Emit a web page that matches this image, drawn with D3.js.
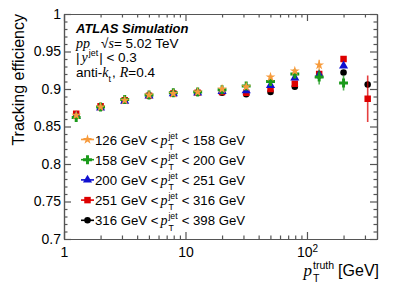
<!DOCTYPE html>
<html>
<head>
<meta charset="utf-8">
<script src="https://cdn.jsdelivr.net/npm/d3@7"></script>
<style>
body{margin:0;background:#fff;}
text{font-family:"Liberation Sans",Arial,Helvetica,sans-serif;fill:#000;}
text.it{font-family:"Liberation Serif","Times New Roman",serif;font-style:italic;}
.axis path,.axis line{stroke:#555;stroke-width:1.2;}
</style>
</head>
<body>
<div id="plot"></div>
<script>
//track pT truth bin centres (GeV)
var ptTruth = [1.26, 2.0, 3.16, 5.01, 7.94, 12.6, 20.0, 31.6, 50.1, 79.4, 126, 200, 316];

//one series per jet pT bin, null = no point
var jetLabels = [['126','158'],['158','200'],['200','251'],['251','316'],['316','398']];
var eff126 = [0.865, 0.876, 0.885, 0.892, 0.894, 0.896, 0.900, 0.903, 0.916, 0.924, 0.932, null, null],
	err126 = [0.001, 0.001, 0.001, 0.001, 0.001, 0.001, 0.001, 0.002, 0.002, 0.003, 0.007, null, null];
var eff158 = [0.862, 0.876, 0.886, 0.892, 0.895, 0.896, 0.899, 0.904, 0.910, 0.920, 0.916, 0.908, null],
	err158 = [0.001, 0.001, 0.001, 0.001, 0.001, 0.001, 0.001, 0.001, 0.002, 0.003, 0.010, 0.010, null];
var eff200 = [0.864, 0.875, 0.884, 0.891, 0.894, 0.895, 0.897, 0.898, 0.905, 0.915, 0.919, 0.931, null],
	err200 = [0.001, 0.001, 0.001, 0.001, 0.001, 0.001, 0.001, 0.001, 0.001, 0.002, 0.002, 0.003, null];
var eff251 = [0.867, 0.877, 0.885, 0.891, 0.894, 0.895, 0.896, 0.895, 0.900, 0.907, 0.920, 0.940, 0.887],
	err251 = [0.001, 0.001, 0.001, 0.001, 0.001, 0.001, 0.001, 0.001, 0.001, 0.002, 0.002, 0.003, 0.031];
var eff316 = [0.864, 0.876, 0.885, 0.891, 0.894, 0.895, 0.895, 0.893, 0.896, 0.903, 0.918, 0.922, 0.906],
	err316 = [0.001, 0.001, 0.001, 0.001, 0.001, 0.001, 0.001, 0.001, 0.001, 0.001, 0.002, 0.002, 0.004];

var yMajor = [0.7, 0.75, 0.8, 0.85, 0.9, 0.95, 1];

//styles kept apart from the values
var series = [
	{eff:eff126, err:err126, color:'#f79b3c', sym:d3.symbolStar, size:30},
	{eff:eff158, err:err158, color:'#1a9a1a', sym:d3.symbolCross, size:44},
	{eff:eff200, err:err200, color:'#1010d0', sym:d3.symbolTriangle, size:36},
	{eff:eff251, err:err251, color:'#dd0000', sym:d3.symbolSquare, size:42},
	{eff:eff316, err:err316, color:'#000000', sym:d3.symbolCircle, size:34}
];

var W = 399, H = 286,
	m = {t:14, r:22, b:47, l:64},
	w = W - m.l - m.r,
	h = H - m.t - m.b;

var svg = d3.select('#plot').append('svg')
	.attr('width', W).attr('height', H);
var plot = svg.append('g').attr('transform','translate('+m.l+','+m.t+')');

var scaleX = d3.scaleLog().domain([1, 377]).range([0, w]),
	scaleY = d3.scaleLinear().domain([0.7, 1]).range([h, 0]);

//minor ticks
var xMinor = [];
[1,10,100].forEach(function(dec){
	for(var k=2;k<=9;k++){ if(dec*k < 377) xMinor.push(dec*k); }
});
var yMinor = d3.range(0.70, 1.0001, 0.01).map(function(v){return +v.toFixed(2)})
	.filter(function(v){ return yMajor.indexOf(v) < 0; });

function drawAxis(axis, tx, ty, cls){
	return plot.append('g').attr('class','axis '+(cls||''))
		.attr('transform','translate('+tx+','+ty+')')
		.call(axis);
}
var noLab = function(){ return ''; };

//y axes
drawAxis(d3.axisLeft(scaleY).tickValues(yMajor).tickSize(-7).tickSizeOuter(0).tickPadding(3)
	.tickFormat(function(d){ return d===1 ? '1' : d3.format('')(d); }), 0, 0, 'y-axis');
drawAxis(d3.axisLeft(scaleY).tickValues(yMinor).tickSize(-3.5).tickSizeOuter(0).tickFormat(noLab), 0, 0);
drawAxis(d3.axisRight(scaleY).tickValues(yMajor).tickSize(-7).tickSizeOuter(0).tickFormat(noLab), w, 0);
drawAxis(d3.axisRight(scaleY).tickValues(yMinor).tickSize(-3.5).tickSizeOuter(0).tickFormat(noLab), w, 0);

//x axes
var xAxisNode = drawAxis(d3.axisBottom(scaleX).tickValues([1,10,100]).tickSize(-7).tickSizeOuter(0).tickPadding(8)
	.tickFormat(function(d){ return d===100 ? '' : d; }), 0, h, 'x-axis');
drawAxis(d3.axisBottom(scaleX).tickValues(xMinor).tickSize(-3.5).tickSizeOuter(0).tickFormat(noLab), 0, h);
drawAxis(d3.axisTop(scaleX).tickValues([1,10,100]).tickSize(-7).tickSizeOuter(0).tickFormat(noLab), 0, 0);
drawAxis(d3.axisTop(scaleX).tickValues(xMinor).tickSize(-3.5).tickSizeOuter(0).tickFormat(noLab), 0, 0);

plot.selectAll('.axis text').style('font-size','14px').style('font-family','"Liberation Sans",Arial,sans-serif');
//10^2 label
var t100 = xAxisNode.selectAll('.tick').filter(function(d){return d===100;}).select('text');
t100.append('tspan').text('10');
t100.append('tspan').attr('dy','-0.5em').style('font-size','10px').text('2');

//data: draw order black first, orange on top
var order = [4,3,2,1,0];
order.forEach(function(si){
	var s = series[si];
	var pts = ptTruth.map(function(x,i){ return {x:x, v:s.eff[i], e:s.err[i]}; })
		.filter(function(d){ return d.v !== null; });
	var g = plot.append('g').attr('class','series');
	g.selectAll('.err').data(pts).enter()
		.append('line').attr('class','err')
		.attr('x1',function(d){return scaleX(d.x)}).attr('x2',function(d){return scaleX(d.x)})
		.attr('y1',function(d){return scaleY(d.v - d.e)}).attr('y2',function(d){return scaleY(d.v + d.e)})
		.attr('stroke', s.color).attr('stroke-width',1.6).attr('opacity',0.75);
	g.selectAll('.pt').data(pts).enter()
		.append('path').attr('class','pt')
		.attr('transform',function(d){return 'translate('+scaleX(d.x)+','+scaleY(d.v)+')'})
		.attr('d', d3.symbol().type(s.sym).size(s.size))
		.attr('fill', s.color);
});

//rich text helper: parts are plain, italic, or stacked sup/sub
function richLabel(parent, x, y, parts, fs){
	var cx = x;
	parts.forEach(function(p){
		if(p.sup !== undefined || p.sub !== undefined){
			var ws = 0, wb = 0;
			if(p.sup){
				var s = parent.append('text').attr('x',cx).attr('y',y - fs*0.45)
					.style('font-size',(fs*0.66)+'px').text(p.sup);
				ws = s.node().getComputedTextLength();
			}
			if(p.sub){
				var b = parent.append('text').attr('x',cx + (p.subDx||0)).attr('y',y + fs*0.4)
					.style('font-size',(fs*0.66)+'px').text(p.sub);
				wb = b.node().getComputedTextLength();
			}
			cx += Math.max(ws, wb) + (p.gap||0);
		} else {
			var t = parent.append('text').attr('x',cx).attr('y',y)
				.attr('class', p.it ? 'it' : null)
				.style('font-size',(p.fs||fs)+'px')
				.text(p.t);
			cx += t.node().getComputedTextLength() + (p.gap||0);
		}
	});
	return cx;
}

//header
svg.append('text').attr('x',76).attr('y',33)
	.style('font-size','13px').style('font-weight','bold').style('font-style','italic')
	.text('ATLAS Simulation');
richLabel(svg, 76, 47.5, [{t:'pp', it:true, fs:14, gap:11},{t:'\u221A', gap:0},{t:'s', it:true, fs:14, gap:0},{t:'= 5.02 TeV'}], 13.5);
richLabel(svg, 76, 62, [{t:'|', gap:2},{t:'y', it:true, fs:14, gap:1},{sup:'jet', gap:1},{t:'| < 0.3'}], 13.5);
richLabel(svg, 76, 76.5, [{t:'anti-'},{t:'k', it:true, fs:14, gap:0},{sub:'t', gap:1},{t:',', gap:4},{t:'R', it:true, fs:14},{t:'=0.4'}], 13.5);

//legend
var legend = svg.append('g').attr('class','legend');
jetLabels.forEach(function(lab, i){
	var s = series[i],
		cy = 139.5 + i*20.2;
	legend.append('line').attr('x1',81).attr('x2',94).attr('y1',cy).attr('y2',cy)
		.attr('stroke', s.color).attr('stroke-width',1.6);
	legend.append('path').attr('transform','translate(87.5,'+cy+')')
		.attr('d', d3.symbol().type(s.sym).size(s.size)).attr('fill', s.color);
	richLabel(legend, 95, cy + 5, [
		{t:lab[0]+' GeV <', gap:2},
		{t:'p', it:true, fs:14, gap:1},
		{sup:'jet', sub:'T', gap:4},
		{t:'< '+lab[1]+' GeV'}
	], 13.2);
});

//axis titles
svg.append('text')
	.attr('transform','translate(24,14) rotate(-90)')
	.attr('text-anchor','end')
	.style('font-size','16px')
	.text('Tracking efficiency');

var xt = svg.append('g');
var endX = richLabel(xt, 0, 276, [{t:'p', it:true, fs:17, gap:1},{sup:'truth', sub:'T', gap:4},{t:'[GeV]'}], 16);
xt.attr('transform','translate('+(379 - endX)+',0)');
</script>
</body>
</html>
